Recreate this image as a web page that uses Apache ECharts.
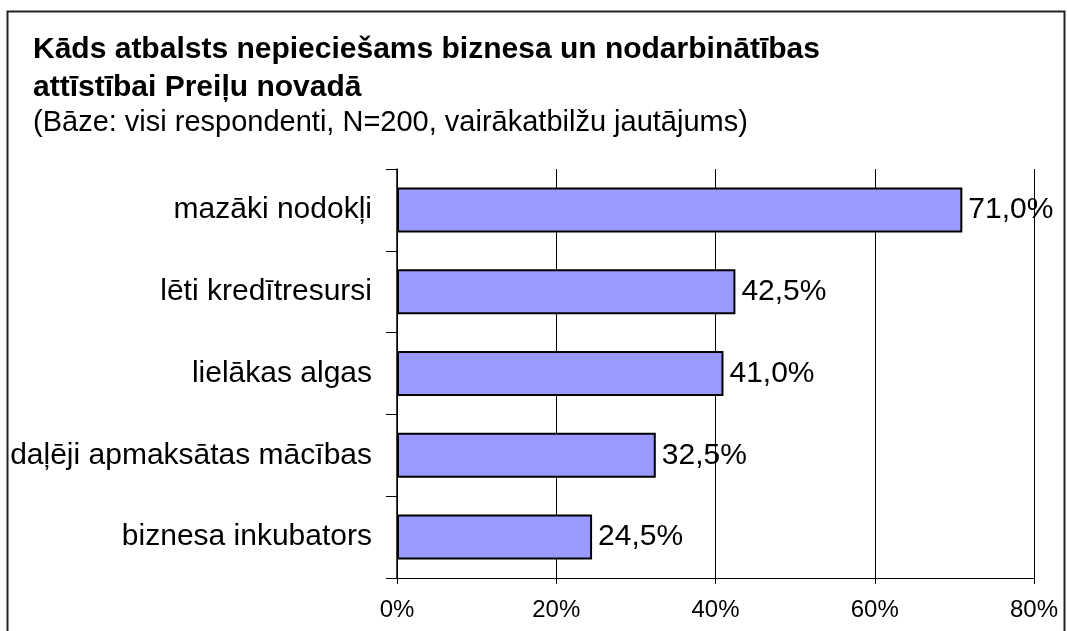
<!DOCTYPE html>
<html>
<head>
<meta charset="utf-8">
<script src="https://cdn.jsdelivr.net/npm/echarts@6/dist/echarts.min.js"></script>
<style>
html,body{margin:0;padding:0;background:#fff;}
#chart{width:1067px;height:631px;}
</style>
</head>
<body>
<div id="chart"></div>
<script>
const titleText = 'Kāds atbalsts nepieciešams biznesa un nodarbinātības\nattīstībai Preiļu novadā';
const subtitleText = '(Bāze: visi respondenti, N=200, vairākatbilžu jautājums)';
const categories = ['mazāki nodokļi', 'lēti kredītresursi', 'lielākas algas', 'daļēji apmaksātas mācības', 'biznesa inkubators'];
const values = [71.0, 42.5, 41.0, 32.5, 24.5];
const xTicks = [0, 20, 40, 60, 80];

const FONT = "'Liberation Sans', Arial, sans-serif";
const chart = echarts.init(document.getElementById('chart'), null, {renderer: 'canvas'});
chart.setOption({
  backgroundColor: '#fff',
  animation: false,
  title: [
    {
      text: titleText, left: 33, top: 31, padding: 0,
      textStyle: {fontFamily: FONT, fontSize: 30, fontWeight: 'bold', color: '#000', lineHeight: 38}
    },
    {
      text: subtitleText, left: 33, top: 104, padding: 0,
      textStyle: {fontFamily: FONT, fontSize: 29, fontWeight: 'normal', color: '#000', lineHeight: 38}
    }
  ],
  graphic: [{
    type: 'rect', left: 5, top: 9, z: 100, silent: true,
    shape: {width: 1057, height: 700},
    style: {fill: 'none', stroke: '#222', lineWidth: 2}
  }],
  grid: {left: 397, right: 33, top: 169, bottom: 53, containLabel: false},
  xAxis: {
    type: 'value', min: xTicks[0], max: xTicks[xTicks.length - 1], interval: 20,
    axisLine: {show: true, lineStyle: {color: '#000', width: 1}},
    axisTick: {show: true, length: 6, lineStyle: {color: '#000'}},
    splitLine: {show: true, lineStyle: {color: '#000', width: 1}},
    axisLabel: {formatter: '{value}%', fontFamily: FONT, fontSize: 24, color: '#000', margin: 20}
  },
  yAxis: {
    type: 'category', data: categories, inverse: true,
    axisLine: {show: true, lineStyle: {color: '#000', width: 1.5}},
    axisTick: {show: true, length: 11, lineStyle: {color: '#000'}},
    axisLabel: {fontFamily: FONT, fontSize: 30, color: '#000', margin: 25}
  },
  series: [{
    type: 'bar', data: values, barWidth: '55%',
    itemStyle: {color: '#9999FF', borderColor: '#000', borderWidth: 2},
    label: {
      show: true, position: 'right', distance: 6,
      fontFamily: FONT, fontSize: 30, color: '#000',
      formatter: p => p.value.toFixed(1).replace('.', ',') + '%'
    }
  }]
});
</script>
</body>
</html>
